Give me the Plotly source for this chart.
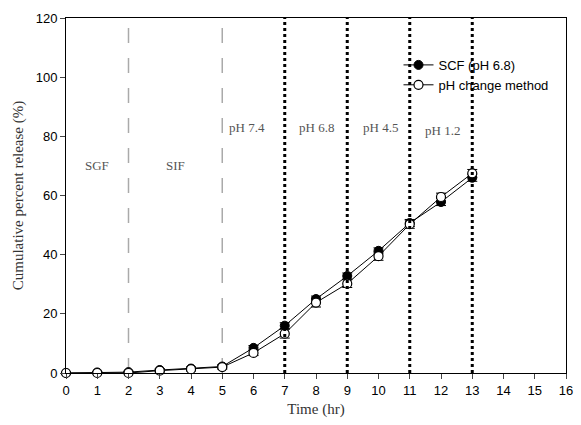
import plotly.graph_objects as go

time = [0, 1, 2, 3, 4, 5, 6, 7, 8, 9, 10, 11, 12, 13]
scf = [0.0, 0.2, 0.3, 1.0, 1.5, 2.2, 8.5, 16.0, 25.0, 32.8, 41.3, 50.7, 57.8, 66.0]
scf_err = [0.3, 0.3, 0.3, 0.4, 0.5, 0.5, 0.8, 1.0, 1.0, 1.0, 1.0, 1.2, 1.2, 1.2]
phc = [0.0, 0.0, 0.0, 0.8, 1.3, 2.0, 6.8, 13.3, 23.8, 30.2, 39.5, 50.3, 59.5, 67.5]
phc_err = [0.3, 0.3, 0.3, 0.5, 0.6, 0.7, 0.9, 1.5, 1.5, 1.3, 1.4, 1.4, 1.3, 1.3]

dashed_x = [2, 5]
dotted_x = [7, 9, 11, 13]
labels = ["SGF", "SIF", "pH 7.4", "pH 6.8", "pH 4.5", "pH 1.2"]
label_x = [1.0, 3.5, 5.8, 8.0, 10.05, 12.05]
label_y = [70, 70, 83, 83, 83, 82]

fig = go.Figure()
fig.add_trace(go.Scatter(
    x=time, y=scf, name="SCF (pH 6.8)", mode="lines+markers", cliponaxis=False,
    line=dict(color="black", width=1),
    marker=dict(symbol="circle", size=9, color="black", line=dict(color="black", width=1)),
    error_y=dict(type="data", array=scf_err, color="black", thickness=1, width=5),
))
fig.add_trace(go.Scatter(
    x=time, y=phc, name="pH change method", mode="lines+markers", cliponaxis=False,
    line=dict(color="black", width=1),
    marker=dict(symbol="circle", size=9, color="white", line=dict(color="black", width=1.2)),
    error_y=dict(type="data", array=phc_err, color="black", thickness=1, width=5),
))

for xv in dashed_x:
    fig.add_shape(type="line", x0=xv, x1=xv, y0=0, y1=120, xref="x", yref="y",
                  line=dict(color="#aaaaaa", width=1.5, dash="longdash"), layer="below")
for xv in dotted_x:
    fig.add_shape(type="line", x0=xv, x1=xv, y0=0, y1=120, xref="x", yref="y",
                  line=dict(color="black", width=3, dash="dot"), layer="above")

for t, xv, yv in zip(labels, label_x, label_y):
    fig.add_annotation(x=xv, y=yv, text=t, showarrow=False, xref="x", yref="y",
                       font=dict(family="Liberation Serif", size=13, color="#555555"))

fig.update_layout(
    width=581, height=425,
    margin=dict(l=66, r=8, t=18, b=52),
    plot_bgcolor="white", paper_bgcolor="white",
    showlegend=True,
    legend=dict(x=0.665, y=0.91, xanchor="left", yanchor="top",
                bgcolor="rgba(0,0,0,0)", borderwidth=0,
                font=dict(family="Arial", size=13, color="black"),
                tracegroupgap=0, itemwidth=30),
    font=dict(family="Arial", size=13, color="black"),
)
fig.update_xaxes(
    range=[0, 16], tickmode="linear", dtick=1, ticks="outside", ticklen=5,
    showline=True, linecolor="black", linewidth=1, mirror=True, showgrid=False, zeroline=False,
    tickfont=dict(family="Arial", size=13, color="black"),
    title=dict(text="Time (hr)", font=dict(family="Liberation Serif", size=15, color="#333333"), standoff=6),
)
fig.update_yaxes(
    range=[0, 120], tickmode="linear", dtick=20, ticks="outside", ticklen=5,
    showline=True, linecolor="black", linewidth=1, mirror=True, showgrid=False, zeroline=False,
    tickfont=dict(family="Arial", size=13, color="black"),
    title=dict(text="Cumulative percent release (%)", font=dict(family="Liberation Serif", size=15, color="#333333"), standoff=8),
)

fig.write_html("out.html")
